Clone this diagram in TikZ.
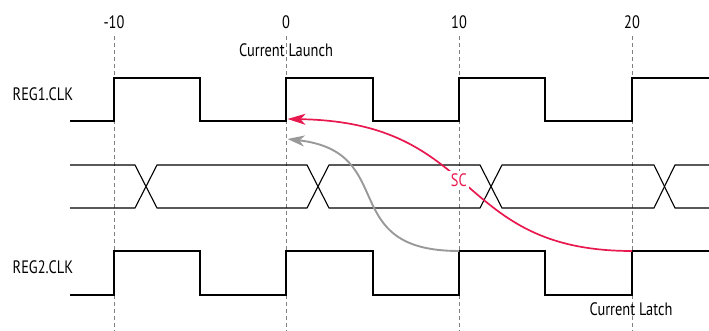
\documentclass[tikz,border=0pt]{standalone}
\usepackage{fontspec}
\setmainfont{PT Sans}[FakeStretch=0.8]
\usetikzlibrary{arrows.meta}
\definecolor{scred}{HTML}{E8194F}
\definecolor{arrgray}{HTML}{999999}
\definecolor{dashgray}{HTML}{808080}
\begin{document}
\begin{tikzpicture}[x=1pt,y=-1pt,
  sig/.style={line width=1.1pt, black, line join=miter},
  gridline/.style={dashgray, line width=0.9pt, dash pattern=on 4pt off 3pt},
  lbl/.style={font=\fontsize{18}{21}\selectfont, inner sep=0pt, text=black},
  launch/.style={scred, line width=1.7pt, -{Stealth[length=18pt,width=11pt,inset=5pt]}},
  feed/.style={arrgray, line width=1.9pt, -{Stealth[length=17pt,width=11pt,inset=5pt]}}]
\useasboundingbox (0,0) rectangle (709,331);
% time labels
\node[lbl] (tm10) at (114,22.5) {-10};
\node[lbl] (t0) at (286,22.5) {0};
\node[lbl] (t10) at (459,22.5) {10};
\node[lbl] (t20) at (632,22.5) {20};
% grid lines
\foreach \x in {114,286,459,632}
  \draw[gridline] (\x,36) -- (\x,331);
% labels
\node[lbl] (launchlbl) at (286,50.5) {Current Launch};
\node[lbl] (latchlbl) at (631,309.5) {Current Latch};
\node[lbl, anchor=west] (reg1) at (12.5,94) {REG1.CLK};
\node[lbl, anchor=west] (reg2) at (12.5,267) {REG2.CLK};
% REG1 clock
\draw[sig] (70,121) -- (114,121) -- (114,78) -- (200,78) -- (200,121) -- (286,121) -- (286,78)
  -- (373,78) -- (373,121) -- (459,121) -- (459,78) -- (545,78) -- (545,121) -- (632,121)
  -- (632,78) -- (709,78);
% data bus
\draw[sig] (70,165) -- (135,165) -- (157,208) -- (307,208) -- (329,165) -- (480,165) -- (502,208)
  -- (654,208) -- (675,165) -- (709,165);
\draw[sig] (70,208) -- (135,208) -- (157,165) -- (307,165) -- (329,208) -- (480,208) -- (502,165)
  -- (654,165) -- (675,208) -- (709,208);
% REG2 clock
\draw[sig] (70,295) -- (114,295) -- (114,251) -- (200,251) -- (200,295) -- (286,295) -- (286,251)
  -- (373,251) -- (373,295) -- (459,295) -- (459,251) -- (545,251) -- (545,295) -- (632,295)
  -- (632,251) -- (709,251);
% arrow end points
\coordinate (l0) at (287.5,119);
\coordinate (l0b) at (287.5,139);
\coordinate (s10) at (459,251);
\coordinate (s20) at (632,251);
% arrows
\draw[feed] (s10) .. controls (335,251) and (400,152) .. (l0b);
\draw[launch] (s20) .. controls (453,251) and (483,122) ..
  node[pos=0.53, fill=white, inner sep=2.5pt, text=scred, font=\fontsize{18}{21}\selectfont] (sc) {SC} (l0);
\end{tikzpicture}
\end{document}
